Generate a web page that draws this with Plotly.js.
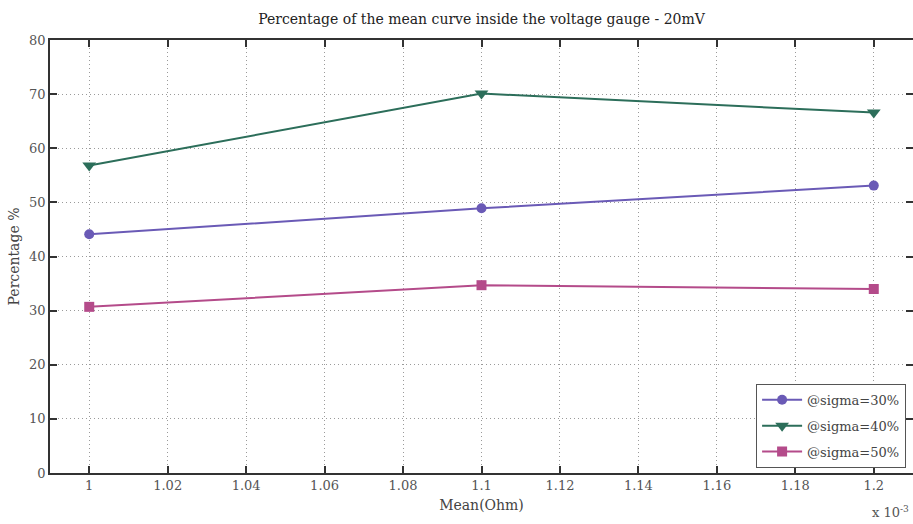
<!DOCTYPE html>
<html>
<head>
<meta charset="utf-8">
<script src="https://cdn.plot.ly/plotly-3.0.1.min.js"></script>
<style>html,body{margin:0;padding:0;background:#fff;}#chart{width:913px;height:524px;}</style>
</head>
<body>
<div id="chart"></div>
<script>
const meanOhm = [1.0, 1.1, 1.2];
const sigma30 = [44.1, 48.9, 53.1];
const sigma40 = [56.8, 70.1, 66.6];
const sigma50 = [30.7, 34.7, 34.0];
const seriesNames = ['@sigma=30%', '@sigma=40%', '@sigma=50%'];
const xTickVals = [1, 1.02, 1.04, 1.06, 1.08, 1.1, 1.12, 1.14, 1.16, 1.18, 1.2];
const xTickText = ['1', '1.02', '1.04', '1.06', '1.08', '1.1', '1.12', '1.14', '1.16', '1.18', '1.2'];
const yTickVals = [0, 10, 20, 30, 40, 50, 60, 70, 80];

const colors = ['#6a5ab6', '#2c6e5a', '#b44b8a'];
const symbols = ['circle', 'triangle-down', 'square'];
const sizes = [10, 12, 10];
const ys = [sigma30, sigma40, sigma50];

const traces = ys.map((y, i) => ({
  x: meanOhm, y: y, name: seriesNames[i], type: 'scatter', mode: 'lines+markers',
  legendgroup: 'g' + i,
  line: {color: colors[i], width: 2},
  marker: {color: colors[i], symbol: symbols[i], size: sizes[i]}
}));

const axisCommon = {
  showline: true, linecolor: '#333', linewidth: 1.5, mirror: 'ticks',
  ticks: 'inside', ticklen: 7, tickwidth: 1.5, tickcolor: '#333',
  showgrid: true, gridcolor: '#9a9a9a', gridwidth: 1, griddash: '1px,3px',
  zeroline: false,
  tickfont: {family: 'DejaVu Serif', size: 13, color: '#555'}
};

const layout = {
  width: 913, height: 524,
  margin: {l: 50, r: 0, t: 40, b: 51},
  paper_bgcolor: '#fff', plot_bgcolor: '#fff',
  title: {text: 'Percentage of the mean curve inside the voltage gauge - 20mV',
          font: {family: 'DejaVu Serif', size: 14, color: '#222'},
          x: 0.5, xref: 'paper', y: 0.963, yanchor: 'middle'},
  xaxis: Object.assign({}, axisCommon, {
    range: [0.99, 1.21], tickvals: xTickVals, ticktext: xTickText,
    title: {text: 'Mean(Ohm)', font: {family: 'DejaVu Serif', size: 14, color: '#444'}, standoff: 8}
  }),
  yaxis: Object.assign({}, axisCommon, {
    range: [0, 80], tickvals: yTickVals,
    title: {text: 'Percentage %', font: {family: 'DejaVu Serif', size: 14, color: '#444'}, standoff: 6}
  }),
  showlegend: true,
  legend: {
    x: 0.992, xanchor: 'right', y: 0.012, yanchor: 'bottom',
    bgcolor: '#fff', bordercolor: '#555', borderwidth: 1,
    font: {family: 'DejaVu Serif', size: 13, color: '#444'},
    tracegroupgap: 6, itemwidth: 40
  },
  annotations: [{
    text: 'x 10<sup>-3</sup>', xref: 'paper', yref: 'paper', x: 0.95, y: -0.09,
    xanchor: 'left', yanchor: 'middle', showarrow: false,
    font: {family: 'DejaVu Serif', size: 13, color: '#555'}
  }]
};

Plotly.newPlot('chart', traces, layout, {displayModeBar: false});
</script>
</body>
</html>
